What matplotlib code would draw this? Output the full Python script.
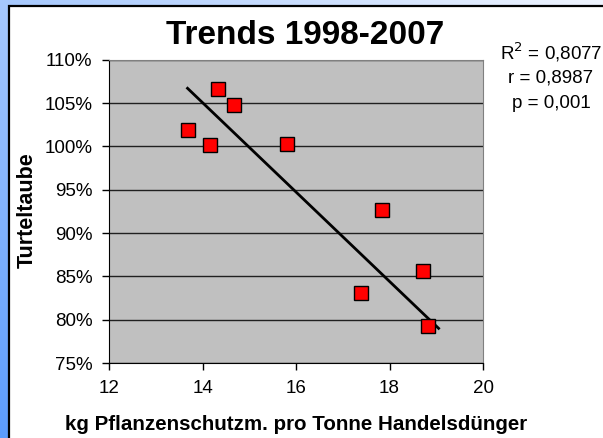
import numpy as np
import matplotlib
matplotlib.use('Agg')
import matplotlib.pyplot as plt
from matplotlib.patches import Rectangle
from matplotlib.ticker import FuncFormatter, MultipleLocator

plt.rcParams['font.family'] = ['Liberation Sans', 'DejaVu Sans']

# Values
pesticide_kg = [13.68, 14.34, 14.67, 14.17, 15.80, 17.83, 18.72, 17.40, 18.82]
turtle_dove = [101.9, 106.6, 104.8, 100.1, 100.3, 92.7, 85.6, 83.1, 79.3]   # percent
trend_x = [13.68, 19.05]
trend_y = [106.7, 79.0]
stats_lines = ['R$^2$ = 0,8077', 'r = 0,8987', 'p = 0,001']

W, H = 603, 438
fig = plt.figure(figsize=(W / 100, H / 100), dpi=100)

# blue gradient background
bg = fig.add_axes([0, 0, 1, 1], zorder=-10)
u = np.linspace(0, 1, 200)[None, :]
v = np.linspace(0, 1, 150)[:, None]
t = np.clip(0.5 * ((1 - u) + v), 0, 1)
light = np.array([0.94, 0.96, 1.0])
blue = np.array([0.36, 0.61, 0.99])
img = light[None, None, :] * (1 - t[..., None]) + blue[None, None, :] * t[..., None]
bg.imshow(img, aspect='auto', extent=[0, 1, 0, 1], origin='upper')
bg.set_axis_off()

# white chart panel with dark border
fig.patches.append(Rectangle((9 / W, -0.1), 1.2, 1 - 6 / H + 0.1,
                             transform=fig.transFigure, facecolor='white',
                             edgecolor='black', linewidth=1.6, zorder=-5))

ax = fig.add_axes([109 / W, 1 - 363 / H, (483 - 109) / W, (363 - 59.7) / H])
ax.set_facecolor('#c0c0c0')
ax.plot(trend_x, trend_y, color='black', linewidth=2, zorder=3)
ax.plot(pesticide_kg, turtle_dove, linestyle='none', marker='s', markersize=10,
        markerfacecolor='#ff0000', markeredgecolor='black', markeredgewidth=1, zorder=4)

ax.set_xlim(12, 20)
ax.set_ylim(75, 110)
ax.xaxis.set_major_locator(MultipleLocator(2))
ax.yaxis.set_major_locator(MultipleLocator(5))
ax.yaxis.set_major_formatter(FuncFormatter(lambda val, pos: f'{val:.0f}%'))
ax.grid(axis='y', color='#202020', linewidth=1)
ax.set_axisbelow(True)
ax.tick_params(direction='out', length=5, width=1, labelsize=13.5, pad=7, color='black')
for side in ['top', 'right']:
    ax.spines[side].set_color('#808080')
for side in ['left', 'bottom']:
    ax.spines[side].set_color('black')

fig.text(305 / W, 1 - 35 / H, 'Trends 1998-2007', fontsize=24, fontweight='bold',
         ha='center', va='center')
fig.text(296 / W, 1 - 424 / H, 'kg Pflanzenschutzm. pro Tonne Handelsdünger',
         fontsize=14.8, fontweight='bold', ha='center', va='center')
fig.text(27 / W, 1 - 210 / H, 'Turteltaube', fontsize=15.5, fontweight='bold',
         rotation=90, ha='center', va='center')
for i, line in enumerate(stats_lines):
    fig.text(551 / W, 1 - (52 + 26 * i) / H, line, fontsize=13.5,
             ha='center', va='center')

fig.savefig('out.png', dpi=100)
